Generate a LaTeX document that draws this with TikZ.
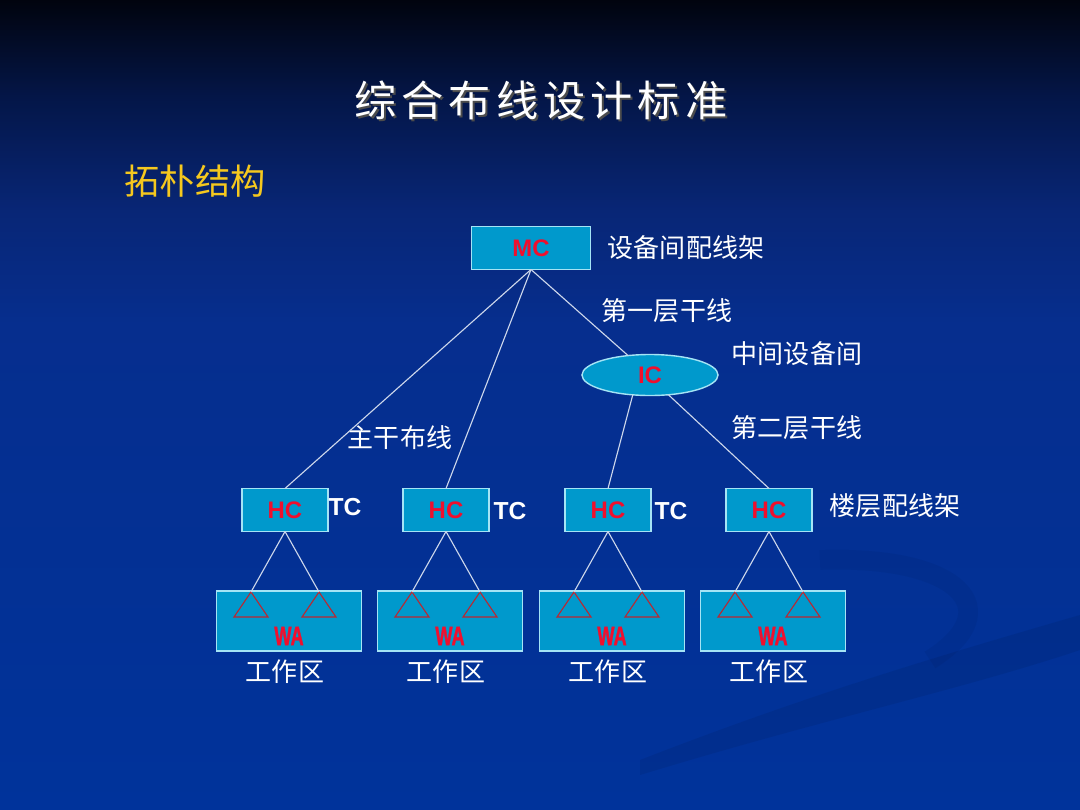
\documentclass[tikz,border=0pt]{standalone}
\usepackage{fontspec}
\usepackage{xcolor}
\usetikzlibrary{
    shapes.geometric,
    positioning,
    calc
}
\newfontfamily\cjk{Noto Sans CJK SC}
\newfontfamily\titlecjk{Noto Sans CJK SC}[LetterSpace=12]
\newfontfamily\latinsans{Liberation Sans}[BoldFont={Liberation Sans Bold}]
\newfontfamily\wafont{Liberation Sans Bold}[FakeBold=1.6]
\definecolor{bgtop}{RGB}{1, 4, 14}
\definecolor{bgdark}{RGB}{4, 22, 72}
\definecolor{bgmid}{RGB}{8, 38, 118}
\definecolor{bgmain}{RGB}{6, 46, 142}
\definecolor{bgbot}{RGB}{0, 51, 155}
\definecolor{boxcyan}{RGB}{0, 153, 204}
\definecolor{boxedge}{RGB}{165, 228, 245}
\definecolor{labelred}{RGB}{240, 15, 45}
\definecolor{trired}{RGB}{185, 40, 50}
\definecolor{wiregray}{RGB}{205, 215, 235}
\definecolor{topicgold}{RGB}{245, 200, 30}
\pgfdeclareverticalshading{slidebg}{100bp}{color(0bp)=(bgbot); color(25bp)=(bgbot); color(55bp)=(bgmain); color(62bp)=(bgmid); color(69bp)=(bgdark); color(75bp)=(bgtop); color(100bp)=(bgtop)}

\begin{document}
\begin{tikzpicture}[x=0.025cm, y=-0.025cm,
    unitbox/.style={draw=boxedge, line width=1pt, fill=boxcyan, inner sep=0pt, outer sep=0pt,
        text=labelred, font=\latinsans\bfseries\fontsize{17}{19}\selectfont},
    wabox/.style={draw=boxedge, line width=1pt, fill=boxcyan, minimum width=3.625cm, minimum height=1.5cm, inner sep=0pt},
    watext/.style={text=labelred, font=\wafont\fontsize{18}{20}\selectfont, inner sep=0pt},
    note/.style={text=white, font=\cjk\fontsize{18.5}{20}\selectfont, inner sep=0pt},
    tclabel/.style={text=white, font=\latinsans\bfseries\fontsize{17.5}{19}\selectfont, inner sep=0pt},
    wire/.style={draw=wiregray, line width=0.8pt},
    tri/.style={draw=trired, line width=0.8pt, line join=miter}]
                % Background
                \useasboundingbox (0,0) rectangle (1080,810);
                \shade[shading=slidebg] (0,0) rectangle (1080,810);
                \fill[bgtop, opacity=0.08] (640,760) .. controls (820,690) and (960,650) .. (1080,615)
                    -- (1080,650) .. controls (960,690) and (820,720) .. (640,775) -- cycle;
                \draw[bgtop, opacity=0.05, line width=14pt] (820,560) .. controls (960,555) and (1010,610) .. (930,660);

                % Title
                \node[text=black!70, font=\titlecjk\fontsize{30}{34}\selectfont] (titleshadow) at (543,102) {综合布线设计标准};
                \node[text=white, font=\titlecjk\fontsize{30}{34}\selectfont] (title) at (541,100) {综合布线设计标准};
                \node[text=topicgold, font=\cjk\fontsize{25}{28}\selectfont, inner sep=0pt] (topic) at (195,181) {拓朴结构};

                % Main cross-connect and intermediate cross-connect
                \node[unitbox, minimum width=2.975cm, minimum height=1.075cm] (mc) at (531,248) {MC};
                \node[unitbox, ellipse, minimum width=3.4cm, minimum height=1.025cm] (ic) at (650,375) {IC};

                % Horizontal cross-connects
                \node[unitbox, minimum width=2.15cm, minimum height=1.075cm] (hc1) at (285,510) {HC};
                \node[unitbox, minimum width=2.15cm, minimum height=1.075cm] (hc2) at (446,510) {HC};
                \node[unitbox, minimum width=2.15cm, minimum height=1.075cm] (hc3) at (608,510) {HC};
                \node[unitbox, minimum width=2.15cm, minimum height=1.075cm] (hc4) at (769,510) {HC};
                \node[tclabel] (tc1) at (345,507) {TC};
                \node[tclabel] (tc2) at (510,511) {TC};
                \node[tclabel] (tc3) at (671,511) {TC};

                % Labels
                \node[note] (roomlabel) at (686,248) {设备间配线架};
                \node[note] (firstlabel) at (667,311) {第一层干线};
                \node[note] (iclabel) at (797,354) {中间设备间};
                \node[note] (secondlabel) at (797,428) {第二层干线};
                \node[note] (trunklabel) at (400,438) {主干布线};
                \node[note] (floorlabel) at (895,506) {楼层配线架};

                % Backbone cabling
                \draw[wire] (mc.south) -- (hc1.north);
                \draw[wire] (mc.south) -- (hc2.north);
                \draw[wire] (mc.south) -- (ic);
                \draw[wire] (ic.-131) -- (hc3.north);
                \draw[wire] (ic.-47) -- (hc4.north);

                % Work areas
                \foreach \i/\x in {1/285, 2/446, 3/608, 4/769} {
                    \node[wabox] (wa\i) at (\x+4,621) {};
                    \node[watext] (watag\i) at (\x+4,636) {\scalebox{0.72}[1.05]{WA}};
                    \node[note] (zone\i) at (\x,672) {工作区};
                    \coordinate (ta\i) at (\x-34,592);
                    \coordinate (tb\i) at (\x+34,592);
                    \draw[tri] (ta\i) -- ++(-17,25) -- ++(34,0) -- cycle;
                    \draw[tri] (tb\i) -- ++(-17,25) -- ++(34,0) -- cycle;
                    \draw[wire] (hc\i.south) -- (ta\i);
                    \draw[wire] (hc\i.south) -- (tb\i);
                }
            \end{tikzpicture}
\end{document}
